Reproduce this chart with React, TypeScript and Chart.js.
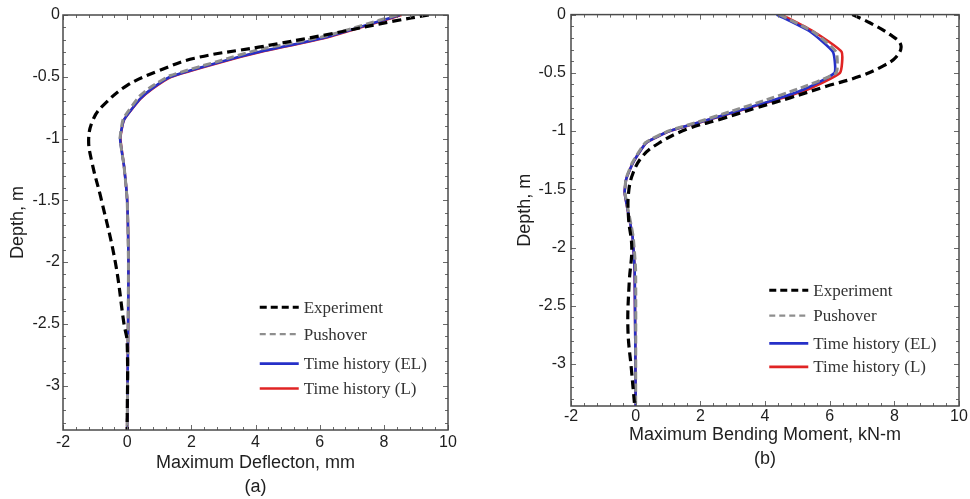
import React, { useEffect, useRef } from "react";
import { Chart, registerables } from "chart.js";

Chart.register(...registerables);

// ---------- axes ----------
const X_TICKS = [-2, 0, 2, 4, 6, 8, 10];
const Y_TICKS = [0, -0.5, -1, -1.5, -2, -2.5, -3];
const X_MIN = -2;
const X_MAX = 10;
const Y_MIN = -3.36;
const Y_MAX = 0;
const X_MINOR_STEP = 0.4;
const Y_MINOR_STEP = 0.1;

const SERIES_LABELS = ["Experiment", "Pushover", "Time history (EL)", "Time history (L)"];

// ---------- (a) Maximum deflection, mm ----------
const A_EXP_DEPTH = [0, -0.05, -0.16, -0.26, -0.35, -0.45, -0.57, -0.73, -0.84, -1.0, -1.19, -1.5, -2.0, -2.5, -2.65, -3.36];
const A_EXP_VAL = [9.4, 8.3, 6.2, 4.1, 2.1, 1.0, 0.0, -0.74, -1.05, -1.2, -1.1, -0.8, -0.37, -0.1, 0.0, 0.0];

const A_PUSH_DEPTH = [0, -0.17, -0.28, -0.37, -0.49, -0.58, -0.66, -0.84, -1.0, -1.22, -1.5, -2.0, -2.5, -3.36];
const A_PUSH_VAL = [8.4, 6.2, 4.1, 2.9, 1.35, 0.75, 0.38, -0.12, -0.22, -0.1, 0.0, 0.04, 0.03, 0.0];

const A_EL_DEPTH = [0, -0.18, -0.3, -0.38, -0.5, -0.6, -0.68, -0.85, -1.0, -1.22, -1.5, -2.0, -2.5, -3.36];
const A_EL_VAL = [8.5, 6.2, 4.1, 2.9, 1.35, 0.75, 0.4, -0.1, -0.22, -0.1, 0.0, 0.04, 0.03, 0.0];

const A_L_DEPTH = [0, -0.18, -0.3, -0.38, -0.5, -0.6, -0.68, -0.85, -1.0, -1.22, -1.5, -2.0, -2.5, -3.36];
const A_L_VAL = [8.55, 6.25, 4.15, 2.95, 1.38, 0.77, 0.41, -0.1, -0.21, -0.1, 0.0, 0.04, 0.03, 0.0];

// ---------- (b) Maximum bending moment, kN-m ----------
const B_EXP_DEPTH = [0, -0.07, -0.17, -0.26, -0.36, -0.44, -0.53, -0.615, -0.715, -0.8, -0.9, -0.985, -1.1, -1.21, -1.36, -1.53, -1.75, -2.0, -2.3, -2.7, -3.05, -3.36];
const B_EXP_VAL = [6.7, 7.24, 7.86, 8.2, 8.07, 7.66, 6.93, 5.9, 4.77, 3.74, 2.6, 1.57, 0.74, 0.23, -0.08, -0.22, -0.22, -0.12, -0.2, -0.24, -0.13, -0.03];

const B_PUSH_DEPTH = [0, -0.15, -0.32, -0.5, -0.64, -0.74, -0.83, -0.92, -1.0, -1.1, -1.27, -1.41, -1.53, -1.9, -2.2, -3.36];
const B_PUSH_VAL = [4.45, 5.5, 6.2, 6.2, 5.0, 3.95, 2.95, 1.95, 1.0, 0.3, -0.1, -0.3, -0.33, -0.08, 0.0, 0.0];

const B_EL_DEPTH = [0, -0.145, -0.32, -0.5, -0.645, -0.744, -0.83, -0.915, -1.0, -1.1, -1.27, -1.41, -1.53, -1.9, -2.2, -3.36];
const B_EL_VAL = [4.36, 5.39, 6.1, 6.15, 5.18, 4.15, 3.12, 2.08, 1.05, 0.33, -0.08, -0.29, -0.34, -0.1, -0.03, 0.0];

const B_L_DEPTH = [0, -0.145, -0.32, -0.5, -0.645, -0.744, -0.83, -0.915, -1.0, -1.1, -1.27, -1.41, -1.53, -1.9, -2.2, -3.36];
const B_L_VAL = [4.5, 5.5, 6.37, 6.32, 5.3, 4.2, 3.15, 2.1, 1.06, 0.33, -0.08, -0.29, -0.34, -0.1, -0.03, 0.0];

const toPoints = (depth: number[], val: number[]) => depth.map((d, i) => ({ x: val[i], y: d }));

const SANS = "'Liberation Sans', Arial, sans-serif";
const SERIF = "'Liberation Serif', 'Times New Roman', serif";

const frameTicksPlugin = {
  id: "frameTicks",
  afterDatasetsDraw(chart: any, _args: any, opts: any) {
    const { ctx, chartArea, scales } = chart;
    const { left, right, top, bottom } = chartArea;
    const xs = scales.x;
    const ys = scales.y;
    ctx.save();
    // minor + major ticks on all four sides, pointing inward
    ctx.strokeStyle = "#6a6a6a";
    ctx.lineWidth = 1;
    ctx.beginPath();
    const nx = Math.round((X_MAX - X_MIN) / X_MINOR_STEP);
    for (let i = 0; i <= nx; i++) {
      const v = X_MIN + i * X_MINOR_STEP;
      const major = X_TICKS.some((t) => Math.abs(t - v) < 1e-6);
      const len = major ? 5 : 3;
      const px = Math.round(xs.getPixelForValue(v)) + 0.5;
      ctx.moveTo(px, bottom);
      ctx.lineTo(px, bottom - len);
      ctx.moveTo(px, top);
      ctx.lineTo(px, top + len);
    }
    const ny = Math.floor((Y_MAX - Y_MIN) / Y_MINOR_STEP + 1e-6);
    for (let i = 0; i <= ny; i++) {
      const v = Y_MAX - i * Y_MINOR_STEP;
      const major = Y_TICKS.some((t) => Math.abs(t - v) < 1e-6);
      const len = major ? 5 : 3;
      const py = Math.round(ys.getPixelForValue(v)) + 0.5;
      ctx.moveTo(left, py);
      ctx.lineTo(left + len, py);
      ctx.moveTo(right, py);
      ctx.lineTo(right - len, py);
    }
    ctx.stroke();
    // frame
    ctx.strokeStyle = "#4a4a4a";
    ctx.lineWidth = 1.5;
    ctx.strokeRect(left, top, right - left, bottom - top);

    // legend
    const w = right - left;
    const h = bottom - top;
    const rows = opts.rows as number[];
    const lx = left + w * opts.xFrac;
    const lineLen = 39;
    ctx.font = `17px ${SERIF}`;
    ctx.textBaseline = "middle";
    ctx.textAlign = "left";
    chart.data.datasets.forEach((ds: any, i: number) => {
      const yy = top + h * rows[i];
      ctx.save();
      ctx.strokeStyle = ds.borderColor;
      ctx.lineWidth = opts.legendWidths[i];
      ctx.setLineDash(opts.legendDashes[i]);
      ctx.beginPath();
      ctx.moveTo(lx, yy);
      ctx.lineTo(lx + lineLen, yy);
      ctx.stroke();
      ctx.restore();
      ctx.fillStyle = "#333";
      ctx.fillText(ds.label, lx + lineLen + 5, yy + 1);
    });
    ctx.restore();
  },
};

type PanelDef = {
  series: { depth: number[]; val: number[] }[];
  xTitle: string[];
  padding: { left: number; right: number; top: number; bottom: number };
  yAxisWidth: number;
  xAxisHeight: number;
  yTickPad: number;
  xTickPad: number;
  yTitlePad: number;
};

const STYLES = [
  { color: "#000000", width: 3.2, dash: [9, 5], tension: 0.4 },
  { color: "#8e8e8e", width: 3, dash: [8, 4], tension: 0.15 },
  { color: "#2630c8", width: 2.6, dash: [] as number[], tension: 0.15 },
  { color: "#e02424", width: 2.6, dash: [] as number[], tension: 0.15 },
];

function makeConfig(p: PanelDef): any {
  return {
    type: "scatter",
    data: {
      datasets: p.series.map((s, i) => ({
        label: SERIES_LABELS[i],
        data: toPoints(s.depth, s.val),
        showLine: true,
        borderColor: STYLES[i].color,
        backgroundColor: STYLES[i].color,
        borderWidth: STYLES[i].width,
        borderDash: STYLES[i].dash,
        tension: STYLES[i].tension,
        pointRadius: 0,
        pointHoverRadius: 0,
        fill: false,
      })),
    },
    options: {
      responsive: false,
      animation: false,
      events: [],
      layout: { padding: p.padding },
      plugins: {
        legend: { display: false },
        tooltip: { enabled: false },
        frameTicks: {
          xFrac: 0.511,
          rows: [0.704, 0.769, 0.84, 0.9],
          legendWidths: [3, 2.2, 2.6, 2.6],
          legendDashes: [[7, 4], [6, 4], [], []],
        },
      },
      scales: {
        x: {
          type: "linear",
          min: X_MIN,
          max: X_MAX,
          grid: { display: false, drawTicks: false },
          border: { display: false },
          afterBuildTicks: (scale: any) => {
            scale.ticks = X_TICKS.map((v) => ({ value: v }));
          },
          afterFit: (scale: any) => {
            scale.height = p.xAxisHeight;
          },
          ticks: {
            padding: p.xTickPad,
            color: "#1e1e1e",
            font: { family: SANS, size: 16 },
            maxRotation: 0,
            callback: (v: number) => String(v),
          },
          title: {
            display: true,
            text: p.xTitle,
            color: "#1e1e1e",
            font: { family: SANS, size: 18, lineHeight: 1.333 },
            padding: { top: 0, bottom: 0 },
          },
        },
        y: {
          type: "linear",
          min: Y_MIN,
          max: Y_MAX,
          grid: { display: false, drawTicks: false },
          border: { display: false },
          afterBuildTicks: (scale: any) => {
            scale.ticks = Y_TICKS.map((v) => ({ value: v }));
          },
          afterFit: (scale: any) => {
            scale.width = p.yAxisWidth;
          },
          ticks: {
            padding: p.yTickPad,
            color: "#1e1e1e",
            font: { family: SANS, size: 16 },
            callback: (v: number) => String(v),
          },
          title: {
            display: true,
            text: "Depth, m",
            color: "#1e1e1e",
            font: { family: SANS, size: 18 },
            padding: { top: p.yTitlePad, bottom: 0 },
          },
        },
      },
    },
    plugins: [frameTicksPlugin],
  };
}

const PANEL_A: PanelDef = {
  series: [
    { depth: A_EXP_DEPTH, val: A_EXP_VAL },
    { depth: A_PUSH_DEPTH, val: A_PUSH_VAL },
    { depth: A_EL_DEPTH, val: A_EL_VAL },
    { depth: A_L_DEPTH, val: A_L_VAL },
  ],
  xTitle: ["Maximum Deflecton, mm", "(a)"],
  padding: { left: 0, right: 32, top: 15, bottom: 0 },
  yAxisWidth: 63,
  xAxisHeight: 69,
  yTickPad: 3,
  xTickPad: 3,
  yTitlePad: 7,
};

const PANEL_B: PanelDef = {
  series: [
    { depth: B_EXP_DEPTH, val: B_EXP_VAL },
    { depth: B_PUSH_DEPTH, val: B_PUSH_VAL },
    { depth: B_EL_DEPTH, val: B_EL_VAL },
    { depth: B_L_DEPTH, val: B_L_VAL },
  ],
  xTitle: ["Maximum Bending Moment, kN-m", "(b)"],
  padding: { left: 0, right: 11, top: 13, bottom: 28 },
  yAxisWidth: 81,
  xAxisHeight: 65,
  yTickPad: 5,
  xTickPad: 1,
  yTitlePad: 24,
};

function Panel({ def, left }: { def: PanelDef; left: number }) {
  const ref = useRef<HTMLCanvasElement | null>(null);
  useEffect(() => {
    if (!ref.current) return;
    const chart = new Chart(ref.current, makeConfig(def));
    return () => chart.destroy();
  }, [def]);
  return (
    <canvas
      ref={ref}
      width={480}
      height={499}
      style={{ position: "absolute", left, top: 0, width: 480, height: 499 }}
    />
  );
}

export default function App() {
  return (
    <div
      style={{
        position: "absolute",
        left: 0,
        top: 0,
        width: 970,
        height: 499,
        background: "#ffffff",
        overflow: "hidden",
      }}
    >
      <Panel def={PANEL_A} left={0} />
      <Panel def={PANEL_B} left={490} />
    </div>
  );
}
